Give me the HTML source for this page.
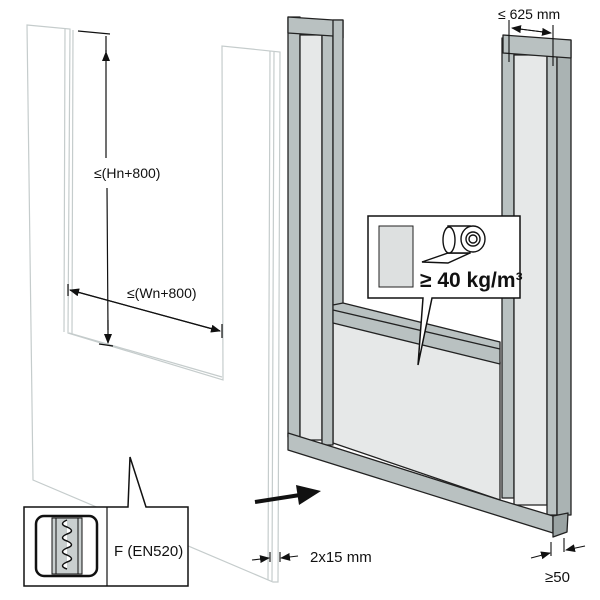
<!DOCTYPE html>
<html><head><style>body{margin:0;background:#fff}svg{display:block}text{font-family:"Liberation Sans",sans-serif;fill:#111}</style></head><body>
<svg width="600" height="600" viewBox="0 0 600 600" xmlns="http://www.w3.org/2000/svg">
<defs><marker id="a" markerWidth="10" markerHeight="8" refX="9" refY="4" orient="auto" markerUnits="userSpaceOnUse"><path d="M0,0 L10,4 L0,8z" fill="#111"/></marker></defs>
<g fill="none" stroke="#c5cccc" stroke-width="1.2">
<path d="M27,25 L70,29 L68,333 L223,380 L222,46 L280,52 L278,582 L273,582 L33,480 Z"/>
<path d="M65,28 L64,332 M73,30 L72,334 M69,333 L222,377"/>
<path d="M270,51 L268,580 M274,52 L272,581"/>
</g>
<g stroke="#111" stroke-width="1.2" fill="none">
<path d="M78,31 L110,34"/>
<path d="M106,50 L106,158 M107,188 L108,330" />
<path d="M106,36 L106,52" marker-start="url(#a)" transform="rotate(180 106 44)"/>
<path d="M108,320 L108,343" marker-end="url(#a)"/>
<path d="M99,344 L113,346"/>
<path d="M68,284 L68,296 M222,324 L222,338"/>
<path d="M70,290 L220,331" marker-end="url(#a)"/>
<path d="M220,331 L70,290" marker-end="url(#a)"/>
</g>
<text x="94" y="178" font-size="14">≤(Hn+800)</text>
<text x="127" y="298" font-size="14">≤(Wn+800)</text>
<g stroke="#222" stroke-width="1.3" stroke-linejoin="round">
<path d="M333,322 L500,362 L500,500 L333,443 Z" fill="#e6e8e8"/>
<rect x="288" y="17" width="12" height="420" fill="#b9c1c1"/>
<rect x="300" y="35" width="22" height="405" fill="#e6e8e8"/>
<rect x="322" y="35" width="11" height="410" fill="#b9c1c1"/>
<path d="M288,17 L333,20 L343,20 L343,38 L333,36 L288,33 Z" fill="#b9c1c1"/>
<rect x="333" y="20" width="10" height="285" fill="#b9c1c1"/>
<rect x="502" y="38" width="12" height="460" fill="#b9c1c1"/>
<rect x="514" y="55" width="33" height="450" fill="#e6e8e8"/>
<rect x="547" y="55" width="10" height="460" fill="#b9c1c1"/>
<rect x="557" y="40" width="14" height="475" fill="#aab3b3"/>
<path d="M503,35 L571,40 L571,58 L557,57 L503,53 Z" fill="#b9c1c1"/>
<path d="M333,305 L343,303 L500,342 L500,364 L333,323 Z" fill="#b9c1c1"/>
<path d="M333,310 L500,349" fill="none"/>
<path d="M288,433 L333,447 L500,500 L553,516 L553,533 L288,450 Z" fill="#b9c1c1"/>
<path d="M553,516 L568,513 L567,532 L553,537 Z" fill="#9aa3a3"/>
</g>
<g stroke="#111" stroke-width="1.1" fill="none">
<path d="M509,20 L509,62 M553,25 L553,66"/>
<path d="M512,28 L551,33" marker-end="url(#a)"/>
<path d="M551,33 L512,28" marker-end="url(#a)"/>
</g>
<text x="498" y="19" font-size="14">≤ 625 mm</text>
<path d="M368,216 L520,216 L520,298 L432,298 L418,365 L423,298 L368,298 Z" fill="#fff" stroke="#111" stroke-width="1.5"/>
<rect x="379" y="226" width="34" height="61" fill="#dde0e0" stroke="#222"/>
<g stroke="#111" stroke-width="1.4" fill="#fff">
<path d="M422,262 L448,253 L470,253 L448,263 Z"/>
<path d="M448,226 L470,226 L470,253 L448,253 Z" fill="#fff"/>
<ellipse cx="449" cy="240" rx="6" ry="13"/>
<ellipse cx="473" cy="239" rx="12" ry="13"/>
<circle cx="473" cy="239" r="7"/>
<circle cx="473" cy="239" r="4"/>
</g>
<text x="420" y="287" font-size="21" font-weight="bold">≥ 40 kg/m³</text>
<path d="M255,502 L300,495" stroke="#111" stroke-width="4" fill="none"/>
<path d="M296,485 L321,491 L299,505 Z" fill="#111"/>
<path d="M24,507 L128,507 L130,457 L146,507 L188,507 L188,586 L24,586 Z" fill="#fff" stroke="#111" stroke-width="1.5"/>
<path d="M107,507 L107,586" stroke="#111" stroke-width="1.2"/>
<rect x="36" y="516" width="61" height="60" rx="8" fill="none" stroke="#111" stroke-width="2.5"/>
<rect x="52" y="518" width="30" height="56" fill="#c9cfcf" stroke="#111"/>
<path d="M56,518 L56,574 M78,518 L78,574" stroke="#111"/>
<path d="M67,520 q-9,4 0,7 q9,4 0,7 q-9,4 0,7 q9,4 0,7 q-9,4 0,7 q9,4 0,7 q-9,4 0,7" stroke="#111" stroke-width="1.5" fill="#fff"/>
<text x="114" y="556" font-size="15">F (EN520)</text>
<g stroke="#111" stroke-width="1.1" fill="none">
<path d="M270,552 L270,562 M280,552 L280,562"/>
<path d="M252,560 L269,558" marker-end="url(#a)"/>
<path d="M298,556 L281,558" marker-end="url(#a)"/>
<path d="M551,542 L551,556 M564,538 L564,552"/>
<path d="M531,558 L550,553" marker-end="url(#a)"/>
<path d="M585,546 L566,550" marker-end="url(#a)"/>
</g>
<text x="310" y="562" font-size="15">2x15 mm</text>
<text x="545" y="582" font-size="15">≥50</text>
</svg>
</body></html>
